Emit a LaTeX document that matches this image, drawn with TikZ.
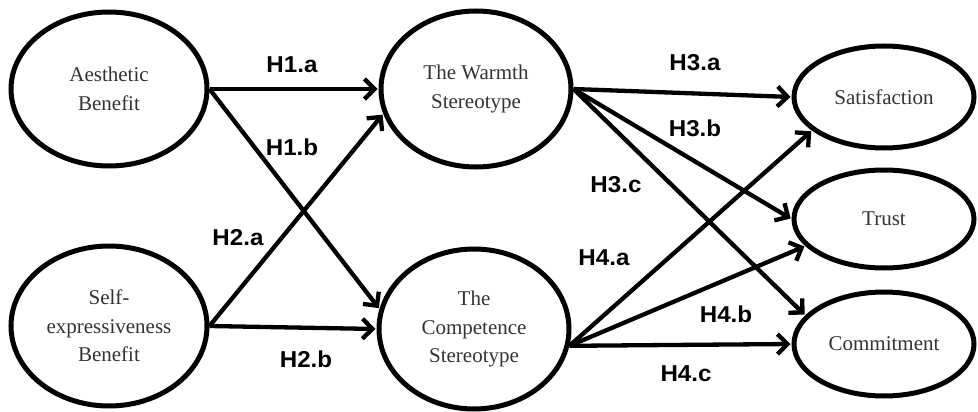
\documentclass[tikz,border=0pt]{standalone}
\usepackage{fontspec}
\setmainfont{Liberation Serif}
\newfontfamily\labfont{Liberation Sans}
\usetikzlibrary{shapes.geometric,arrows.meta}
\tikzset{
  construct/.style={ellipse,draw=black,line width=5pt,inner sep=0pt,align=center,
    font=\fontsize{21}{28.5}\selectfont,text=black!80},
  hyp/.style={font=\labfont\bfseries\fontsize{23}{25}\selectfont,inner sep=0pt,xscale=1.05},
  path/.style={line width=4.3pt,-{Straight Barb[length=10pt,width=20pt,line width=4.3pt]},shorten >=1pt}
}
\begin{document}
\begin{tikzpicture}[x=1pt,y=-1pt]
\useasboundingbox (0,0) rectangle (978,412);
\node[construct,minimum width=196pt,minimum height=154pt] (aes) at (109,89) {Aesthetic\\Benefit};
\node[construct,minimum width=196pt,minimum height=160pt] (self) at (109,326) {Self-\\expressiveness\\Benefit};
\node[construct,minimum width=190pt,minimum height=156pt] (warm) at (476,89) {The Warmth\\Stereotype};
\node[construct,minimum width=190pt,minimum height=160pt] (comp) at (474,329) {The\\Competence\\Stereotype};
\node[construct,minimum width=180pt,minimum height=102pt] (sat) at (884,97) {Satisfaction};
\node[construct,minimum width=180pt,minimum height=98pt] (trust) at (884,219) {Trust};
\node[construct,minimum width=180pt,minimum height=104pt] (commit) at (884,344) {Commitment};

\draw[path] (aes.east) -- (warm.west);
\draw[path] (aes.east) -- (comp.168);
\draw[path] (self.east) -- (warm.195);
\draw[path] (self.east) -- (comp.west);
\draw[path] (warm.east) -- (sat.west);
\draw[path] (warm.east) -- (trust.west);
\draw[path] (warm.east) -- (commit.160);
\draw[path] (comp.350) -- (sat.205);
\draw[path] (comp.350) -- (trust.199);
\draw[path] (comp.350) -- (commit.west);

\node[hyp] (h1a) at (292,65) {H1.a};
\node[hyp] (h1b) at (292,147) {H1.b};
\node[hyp] (h2a) at (238,238) {H2.a};
\node[hyp] (h2b) at (306,359) {H2.b};
\node[hyp] (h3a) at (695,63) {H3.a};
\node[hyp] (h3b) at (695,128) {H3.b};
\node[hyp] (h3c) at (616,185) {H3.c};
\node[hyp] (h4a) at (604,258) {H4.a};
\node[hyp] (h4b) at (726,314) {H4.b};
\node[hyp] (h4c) at (686,374) {H4.c};
\end{tikzpicture}
\end{document}
